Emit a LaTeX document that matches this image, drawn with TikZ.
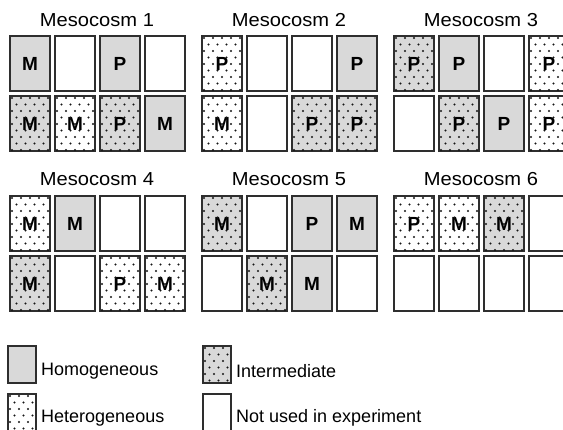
\documentclass[tikz,border=0pt]{standalone}
\usepackage{fontspec}
\setmainfont{Liberation Sans}
\usetikzlibrary{calc}
\definecolor{hgray}{HTML}{D9D9D9}
\definecolor{edge}{HTML}{2E2E2E}
\definecolor{dotc}{HTML}{151515}
\tikzset{
  box/.style={draw=edge, line width=1.6pt, rectangle, anchor=north west,
    minimum width=40pt, minimum height=55pt, inner sep=0pt, outer sep=0pt,
    font=\fontsize{19}{19}\selectfont\bfseries},
  hom/.style={box, fill=hgray},
  het/.style={box, fill=white},
  intm/.style={box, fill=hgray},
  emp/.style={box, fill=white},
  title/.style={font=\fontsize{18.8}{18.8}\selectfont, xscale=1.07, inner sep=0pt},
  legtext/.style={font=\fontsize{18}{18}\selectfont, anchor=west, inner sep=0pt},
  legbox/.style={draw=edge, line width=1.6pt, rectangle, anchor=north west,
    minimum width=28pt, minimum height=37pt, inner sep=0pt, outer sep=0pt},
  dotmark/.style={fill=dotc}
}
\begin{document}
\begin{tikzpicture}[x=1pt,y=-1pt]
\clip (0,0) rectangle (563,429);
\fill[white] (0,0) rectangle (563,429);
% titles
\node[title] (t1) at (97,20.5) {Mesocosm 1};
\node[title] (t2) at (289,20.5) {Mesocosm 2};
\node[title] (t3) at (481,20.5) {Mesocosm 3};
\node[title] (t4) at (97,179.5) {Mesocosm 4};
\node[title] (t5) at (289,179.5) {Mesocosm 5};
\node[title] (t6) at (481,179.5) {Mesocosm 6};
% Mesocosm 1
\node[hom]  (a11) at (10,36) {M};
\node[emp]  (a12) at (55,36) {};
\node[hom]  (a13) at (100,36) {P};
\node[emp]  (a14) at (145,36) {};
\node[intm] (a21) at (10,96) {M};
\node[het]  (a22) at (55,96) {M};
\node[intm] (a23) at (100,96) {P};
\node[hom]  (a24) at (145,96) {M};
% Mesocosm 2
\node[het]  (b11) at (202,36) {P};
\node[emp]  (b12) at (247,36) {};
\node[emp]  (b13) at (292,36) {};
\node[hom]  (b14) at (337,36) {P};
\node[het]  (b21) at (202,96) {M};
\node[emp]  (b22) at (247,96) {};
\node[intm] (b23) at (292,96) {P};
\node[intm] (b24) at (337,96) {P};
% Mesocosm 3
\node[intm] (c11) at (394,36) {P};
\node[hom]  (c12) at (439,36) {P};
\node[emp]  (c13) at (484,36) {};
\node[het]  (c14) at (529,36) {P};
\node[emp]  (c21) at (394,96) {};
\node[intm] (c22) at (439,96) {P};
\node[hom]  (c23) at (484,96) {P};
\node[het]  (c24) at (529,96) {P};
% Mesocosm 4
\node[het]  (d11) at (10,196) {M};
\node[hom]  (d12) at (55,196) {M};
\node[emp]  (d13) at (100,196) {};
\node[emp]  (d14) at (145,196) {};
\node[intm] (d21) at (10,256) {M};
\node[emp]  (d22) at (55,256) {};
\node[het]  (d23) at (100,256) {P};
\node[het]  (d24) at (145,256) {M};
% Mesocosm 5
\node[intm] (e11) at (202,196) {M};
\node[emp]  (e12) at (247,196) {};
\node[hom]  (e13) at (292,196) {P};
\node[hom]  (e14) at (337,196) {M};
\node[emp]  (e21) at (202,256) {};
\node[intm] (e22) at (247,256) {M};
\node[hom]  (e23) at (292,256) {M};
\node[emp]  (e24) at (337,256) {};
% Mesocosm 6
\node[het]  (f11) at (394,196) {P};
\node[het]  (f12) at (439,196) {M};
\node[intm] (f13) at (484,196) {M};
\node[emp]  (f14) at (529,196) {};
\node[emp]  (f21) at (394,256) {};
\node[emp]  (f22) at (439,256) {};
\node[emp]  (f23) at (484,256) {};
\node[emp]  (f24) at (529,256) {};
% legend
\node[legbox, fill=hgray] (lh) at (8,346) {};
\node[legtext] (lht) at (41,371) {Homogeneous};
\node[legbox, fill=white] (le) at (8,394) {};
\node[legtext] (let) at (41,418) {Heterogeneous};
\node[legbox, fill=hgray] (li) at (203,346) {};
\node[legtext] (lit) at (236,371) {Intermediate};
\node[legbox, fill=white] (ln) at (203,394) {};
\node[legtext] (lnt) at (236,418) {Not used in experiment};
% stipple dots over the patterned boxes
\foreach \n in {a21,a22,a23,b11,b21,b23,b24,c11,c14,c22,c24,d11,d21,d23,d24,e11,e22,f11,f12,f13,le,li} {
  \begin{scope}
    \clip (\n.north west) rectangle (\n.south east);
    \foreach \i [evaluate=\i as \off using {mod(\i,2)*4.5}] in {0,...,9}
      \foreach \j in {0,...,4}
        \fill[dotmark] ($(\n.north west)+(\j*9+\off+2,\i*6.5+2)$) circle (1.2);
  \end{scope}
}
\end{tikzpicture}
\end{document}
